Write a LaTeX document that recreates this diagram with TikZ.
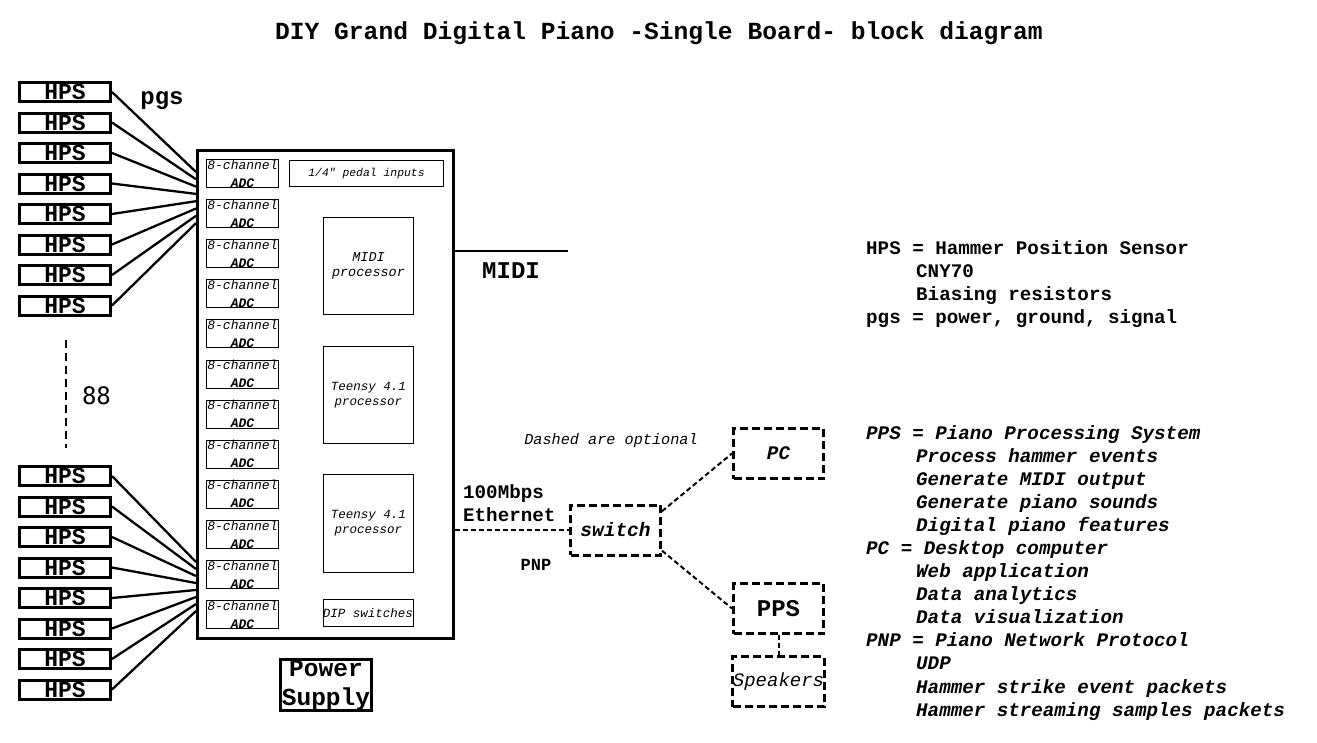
\documentclass[tikz,border=0pt]{standalone}
\usepackage{fontspec}
\setmonofont{Liberation Mono}
\newfontfamily\numfont{DejaVu Sans Mono}
\usetikzlibrary{positioning}

\begin{document}
\begin{tikzpicture}[
    x=1pt, y=-1pt,
    hps/.style={draw, line width=3pt, minimum width=91pt, minimum height=19pt, inner sep=0pt,
        font=\ttfamily\bfseries\fontsize{23}{23}\selectfont},
    board/.style={draw, line width=3pt, minimum width=256pt, minimum height=488pt, inner sep=0pt},
    part/.style={draw, line width=0.9pt, inner sep=0pt, align=center,
        font=\ttfamily\itshape\fontsize{12.5}{15}\selectfont},
    adc/.style={part, minimum width=72pt, minimum height=28pt,
        font=\ttfamily\itshape\fontsize{13}{18}\selectfont},
    optbox/.style={draw, line width=3pt, dash pattern=on 8pt off 4pt, minimum width=90pt,
        minimum height=50pt, inner sep=0pt},
    wire/.style={line width=2.3pt},
    optwire/.style={line width=2pt, dash pattern=on 5pt off 3pt},
    label/.style={inner sep=0pt, font=\ttfamily\bfseries\fontsize{19.2}{23}\selectfont},
    keytext/.style={label, anchor=north west, align=left}
]
\useasboundingbox (0,0) rectangle (1317,742);

% title
\node[label, font=\ttfamily\bfseries\fontsize{24.6}{26}\selectfont] (title) at (659,33)
    {DIY Grand Digital Piano -Single Board- block diagram};

% main board
\node[board] (board) at (325.5,394.5) {};
\foreach \i in {0,...,11}
    \node[adc] (adc\i) at (242.5,{173.5+40.1*\i}) {8-channel\\{\bfseries ADC}};
\node[part, minimum width=154pt, minimum height=26pt, font=\ttfamily\itshape\fontsize{11.4}{13}\selectfont]
    (pedal) at (366.5,173.5) {1/4" pedal inputs};
\node[part, minimum width=90pt, minimum height=97pt, font=\ttfamily\itshape\fontsize{13.5}{15}\selectfont]
    (midiproc) at (368.5,266) {MIDI\\processor};
\node[part, minimum width=90pt, minimum height=97pt] (teensyA) at (368.5,395) {Teensy 4.1\\processor};
\node[part, minimum width=90pt, minimum height=98pt] (teensyB) at (368.5,523.5) {Teensy 4.1\\processor};
\node[part, minimum width=89pt, minimum height=27pt] (dip) at (368,613) {DIP switches};
\node[draw, line width=3pt, minimum width=91pt, minimum height=51pt, inner sep=0pt, align=center,
    font=\ttfamily\bfseries\fontsize{24.5}{29}\selectfont] (power) at (326,685) {Power\\Supply};

% hammer position sensors
\foreach \i in {0,...,7} {
    \node[hps] (hpsT\i) at (65,{92+30.5*\i}) {HPS};
    \coordinate (inT\i) at (196,{172+7.3*\i});
    \draw[wire] (hpsT\i.east) -- (inT\i);
    \node[hps] (hpsB\i) at (65,{476+30.5*\i}) {HPS};
    \coordinate (inB\i) at (196,{562+7*\i});
    \draw[wire] (hpsB\i.east) -- (inB\i);
}
\node[label, font=\ttfamily\bfseries\fontsize{24}{24}\selectfont] (pgs) at (162,101) {pgs};
\coordinate (dotstop) at (66,340);
\coordinate (dotsbot) at (66,448);
\draw[line width=2pt, dash pattern=on 8pt off 5pt] (dotstop) -- (dotsbot);
\node[inner sep=0pt, font=\numfont\fontsize{24}{24}\selectfont] (count) at (96.5,396) {88};

% outputs
\coordinate (midiend) at (568,251);
\draw[wire] (board.east |- midiend) -- (midiend);
\node[label, font=\ttfamily\bfseries\fontsize{24}{24}\selectfont] (midi) at (511,271) {MIDI};

\node[optbox, font=\ttfamily\bfseries\itshape\fontsize{19.5}{20}\selectfont] (switch) at (615.5,530) {switch};
\node[optbox, font=\ttfamily\bfseries\itshape\fontsize{19.2}{20}\selectfont] (pc) at (778.5,453.5) {PC};
\node[optbox, font=\ttfamily\bfseries\fontsize{24}{24}\selectfont] (pps) at (778.5,608.5) {PPS};
\node[optbox, font=\ttfamily\itshape\fontsize{19}{20}\selectfont] (speakers) at (778.5,681.5) {Speakers};

\draw[optwire] (board.east |- switch) -- (switch.west);
\draw[optwire] (switch.22) -- (pc.west);
\draw[optwire] (switch.-24) -- (pps.west);
\draw[optwire] (pps.south) -- (speakers.north);

\node[label, anchor=west, align=left] (ether) at (463,503.5) {100Mbps\\Ethernet};
\node[label, font=\ttfamily\bfseries\fontsize{17}{17}\selectfont] (pnp) at (536,565) {PNP};
\node[inner sep=0pt, font=\ttfamily\itshape\fontsize{15.2}{16}\selectfont] (optional) at (611,441)
    {Dashed are optional};

% legend
\node[keytext] (hpskey) at (866,240) {HPS = Hammer Position Sensor\\
    \hspace*{50pt}CNY70\\
    \hspace*{50pt}Biasing resistors\\
    pgs = power, ground, signal};
\node[keytext, font=\ttfamily\bfseries\itshape\fontsize{19.2}{23.08}\selectfont] (ppskey) at (866,425)
    {PPS = Piano Processing System\\
    \hspace*{50pt}Process hammer events\\
    \hspace*{50pt}Generate MIDI output\\
    \hspace*{50pt}Generate piano sounds\\
    \hspace*{50pt}Digital piano features\\
    PC = Desktop computer\\
    \hspace*{50pt}Web application\\
    \hspace*{50pt}Data analytics\\
    \hspace*{50pt}Data visualization\\
    PNP = Piano Network Protocol\\
    \hspace*{50pt}UDP\\
    \hspace*{50pt}Hammer strike event packets\\
    \hspace*{50pt}Hammer streaming samples packets};
\end{tikzpicture}
\end{document}
